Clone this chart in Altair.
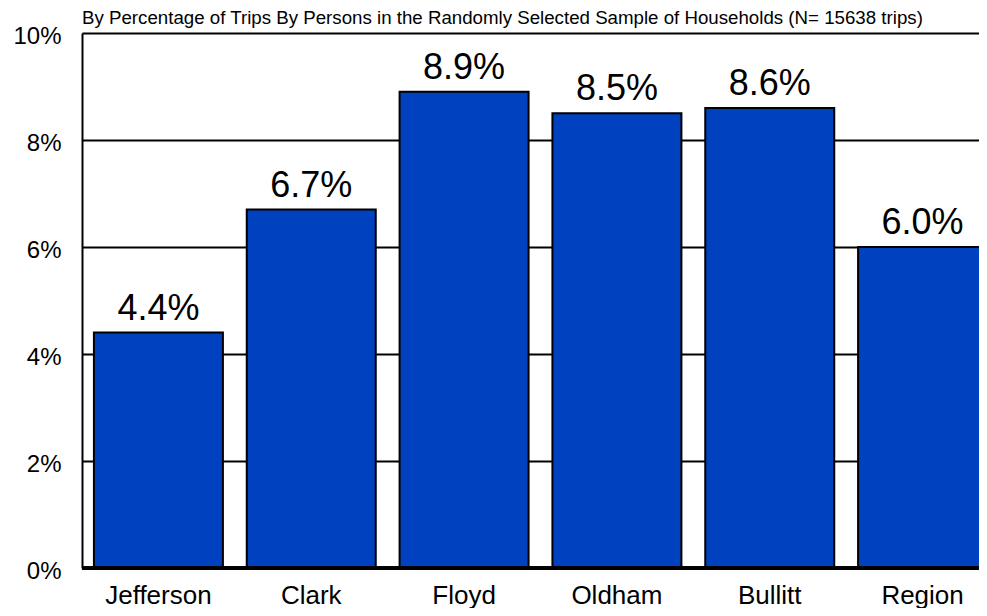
import altair as alt
import pandas as pd

counties = ["Jefferson", "Clark", "Floyd", "Oldham", "Bullitt", "Region"]
shares = [0.044, 0.067, 0.089, 0.085, 0.086, 0.060]
y_ticks = [0, 0.02, 0.04, 0.06, 0.08, 0.10]
subtitle = "By Percentage of Trips By Persons in the Randomly Selected Sample of Households (N= 15638 trips)"

df = pd.DataFrame({"county": counties, "share": shares})
sub_df = pd.DataFrame({"t": [subtitle]})
FONT = "Liberation Sans"

x_enc = alt.X(
    "county:N", sort=counties,
    scale=alt.Scale(range=[0, 917], paddingInner=0.156, paddingOuter=0.078),
    axis=alt.Axis(title=None, labelFontSize=26, labelColor="black", labelPadding=14,
                  ticks=False, domain=False, labelFont=FONT, labelAngle=0, grid=False),
)
y_enc = alt.Y(
    "share:Q", scale=alt.Scale(domain=[0, 0.10]),
    axis=alt.Axis(title=None, values=y_ticks, format=".0%", grid=True, gridColor="black",
                  gridWidth=2, gridOpacity=1, labelFontSize=24, labelColor="black",
                  labelFont=FONT, ticks=False, domain=True, domainColor="black",
                  domainWidth=2, labelPadding=21, labelOffset=3),
)

bars = alt.Chart(df).mark_bar(color="#0041BF", stroke="black", strokeWidth=2).encode(x=x_enc, y=y_enc)
labels = alt.Chart(df).mark_text(baseline="alphabetic", dy=-13, fontSize=36, font=FONT, color="black").encode(
    x=alt.X("county:N", sort=counties), y="share:Q", text=alt.Text("share:Q", format=".1%")
)
base_line = alt.Chart(df).mark_rule(color="black", strokeWidth=3).encode(
    y=alt.datum(0), x=alt.value(0), x2=alt.value(897)
)
sub = alt.Chart(sub_df).mark_text(align="left", baseline="alphabetic", fontSize=18.7, font=FONT,
                                  color="black").encode(
    text="t:N", x=alt.value(0), y=alt.value(-9)
)

chart = alt.layer(bars, labels, base_line, sub).properties(
    width=897, height=535,
    autosize=alt.AutoSizeParams(type="none"),
    padding={"left": 74, "top": 25, "right": 0, "bottom": 40},
).configure_view(stroke=None)

chart.save("out.html", embed_options={"renderer": "svg", "actions": False})
